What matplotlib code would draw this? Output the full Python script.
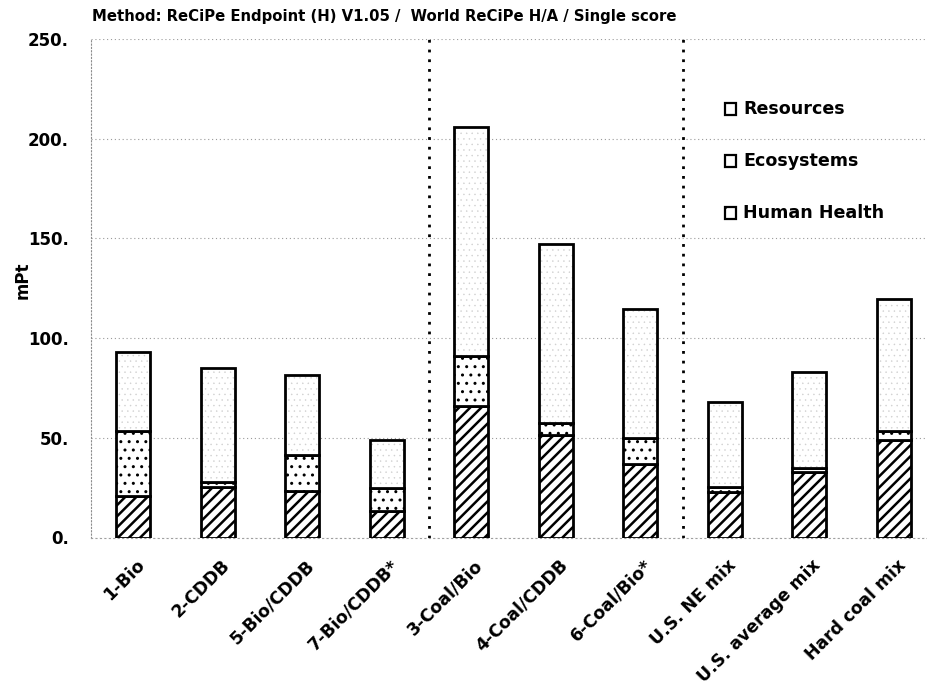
import numpy as np
import matplotlib
matplotlib.use("Agg")
import matplotlib.pyplot as plt
from matplotlib.patches import Rectangle
from matplotlib.transforms import ScaledTranslation

plt.rcParams['font.family'] = ['DejaVu Sans']

categories = ["1-Bio", "2-CDDB", "5-Bio/CDDB", "7-Bio/CDDB*", "3-Coal/Bio",
              "4-Coal/CDDB", "6-Coal/Bio*", "U.S. NE mix", "U.S. average mix",
              "Hard coal mix"]
human_health = [20.7, 25.5, 23.3, 13.2, 65.9, 51.6, 37.1, 22.9, 32.8, 48.7]
ecosystems = [32.7, 2.3, 18.3, 11.4, 25.1, 5.9, 12.6, 2.5, 2.0, 4.5]
resources = [39.5, 57.2, 40.0, 24.4, 115.0, 89.5, 64.8, 42.5, 48.2, 66.3]
y_ticks = [0, 50, 100, 150, 200, 250]
group_breaks = [3.5, 6.5]
legend_labels = ["Resources", "Ecosystems", "Human Health"]

title = "Method: ReCiPe Endpoint (H) V1.05 /  World ReCiPe H/A / Single score"

W, H = 928, 688
fig = plt.figure(figsize=(W / 100, H / 100), dpi=100)
ax = fig.add_axes([91 / W, (H - 537.5) / H, (936 - 91) / W, (537.5 - 39) / H])

x = np.arange(len(categories))
hh = np.array(human_health)
eco = np.array(ecosystems)
res = np.array(resources)
bw = 0.40

# Human Health: dense diagonal hatch
plt.rcParams['hatch.linewidth'] = 1.8
ax.bar(x, hh, bw, color='white', edgecolor='black', hatch='///', lw=2.0, zorder=3)

# Ecosystems: sparse dots
plt.rcParams['hatch.linewidth'] = 1.0
ax.bar(x, eco, bw, bottom=hh, color='white', edgecolor='black', hatch='..',
       lw=2.0, zorder=3)

# Resources: faint stipple, then a black outline on top
plt.rcParams['hatch.linewidth'] = 0.3
ax.bar(x, res, bw, bottom=hh + eco, color='white', edgecolor='#cfcfcf',
       hatch='...', lw=0, zorder=3)
ax.bar(x, res, bw, bottom=hh + eco, fill=False, edgecolor='black', lw=2.0,
       zorder=4)

# group separators
for b in group_breaks:
    ax.axvline(b, color='black', ls=(0, (1, 2.5)), lw=2.0, zorder=2)

ax.set_xlim(-0.5, len(categories) - 0.5)
ax.set_ylim(0, 250)
ax.set_yticks(y_ticks)
ax.set_yticklabels([f"{v}." for v in y_ticks], fontsize=12, fontweight='bold')
ax.tick_params(axis='y', length=0, pad=16)
ax.yaxis.grid(True, ls=(0, (1, 2.5)), color='#9a9a9a', lw=0.8, zorder=0)
ax.set_axisbelow(True)

ax.set_xticks(x)
ax.set_xticklabels(categories, rotation=45, ha='right', va='center',
                   rotation_mode='anchor', fontsize=12.4, fontweight='bold')
ax.tick_params(axis='x', length=0, pad=18)
offset = ScaledTranslation(9 / 100, 0, fig.dpi_scale_trans)
for lbl in ax.get_xticklabels():
    lbl.set_transform(lbl.get_transform() + offset)

for side in ['top', 'right']:
    ax.spines[side].set_visible(False)
ax.spines['left'].set_linestyle((0, (1, 2)))
ax.spines['left'].set_color('#8c8c8c')
ax.spines['left'].set_linewidth(0.8)
ax.spines['bottom'].set_linestyle((0, (1, 3)))
ax.spines['bottom'].set_color('#a0a0a0')
ax.spines['bottom'].set_linewidth(0.8)

ax.set_ylabel("mPt", fontsize=12, fontweight='bold')
ax.yaxis.set_label_coords((32 - 91) / 845, (537.5 - 280) / 498.5)

fig.text(92 / W, 1 - 16 / H, title, fontsize=10.7, fontweight='bold',
         va='center', ha='left')

# legend: top entry corresponds to the top of the stack
plt.rcParams['hatch.linewidth'] = 1.8
legend_hatches = [None, None, '/']
for i, (lab, hat) in enumerate(zip(legend_labels, legend_hatches)):
    yc = 109 + 52 * i
    fig.add_artist(Rectangle((725 / W, 1 - (yc + 6) / H), 11 / W, 12 / H,
                             transform=fig.transFigure, facecolor='white',
                             edgecolor='black', lw=1.6, hatch=hat))
    fig.text(743 / W, 1 - yc / H, lab, fontsize=12.6, fontweight='bold',
             va='center', ha='left')

fig.savefig("out.png", dpi=100)
